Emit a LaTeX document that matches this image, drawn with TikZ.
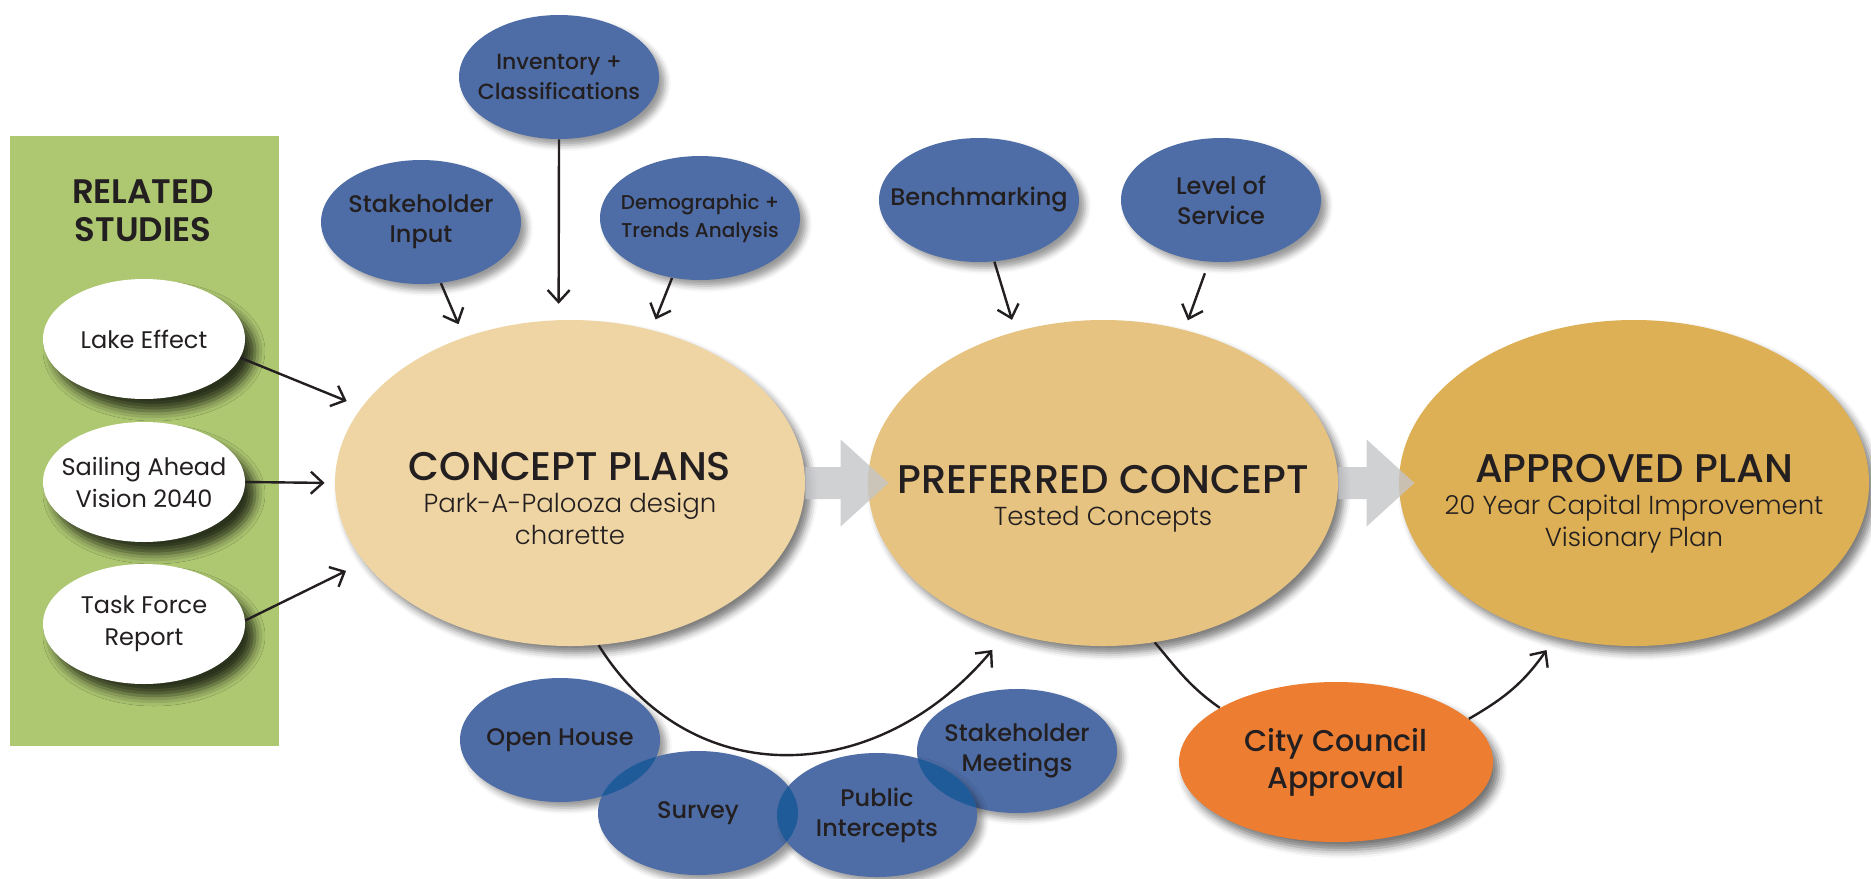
\documentclass[tikz,border=0pt]{standalone}
\usepackage{fontspec}
\setmainfont{Poppins}
\newfontfamily\medfont{Poppins Medium}
\newfontfamily\lightfont{Poppins Light}
\newfontfamily\semifont{Poppins SemiBold}
\usetikzlibrary{shapes.geometric,arrows.meta,shadows.blur}

\definecolor{greenbg}{HTML}{AEC872}
\definecolor{bubbleblue}{HTML}{4E6DA6}
\definecolor{lensblue}{HTML}{1F5B99}
\definecolor{conceptfill}{HTML}{EFD5A3}
\definecolor{preffill}{HTML}{E6C381}
\definecolor{apprfill}{HTML}{DEB055}
\definecolor{councilfill}{HTML}{ED7D31}
\definecolor{arrowgray}{HTML}{C4C5C8}
\definecolor{inkblack}{HTML}{231F20}

\tikzset{
  bubble/.style={ellipse, inner ysep=0pt, inner xsep=-12pt, align=center, text=inkblack},
  study/.style={bubble, fill=white, minimum width=101pt, minimum height=60pt,
    font=\fontsize{12}{16}\selectfont,
    blur shadow={shadow xshift=5pt, shadow yshift=-6pt, shadow blur radius=5pt, shadow opacity=75}},
  input/.style={bubble, fill=bubbleblue, minimum width=100pt, minimum height=62pt,
    font=\medfont\fontsize{12}{15}\selectfont,
    blur shadow={shadow xshift=3pt, shadow yshift=-3pt, shadow blur radius=3pt, shadow opacity=40}},
  phase/.style={ellipse, minimum width=235pt, minimum height=163pt,
    blur shadow={shadow xshift=3pt, shadow yshift=-3.5pt, shadow blur radius=3.5pt, shadow opacity=50}},
  phasetext/.style={align=center, text=inkblack, font=\medfont\fontsize{20}{16}\selectfont},
  flow/.style={draw=arrowgray, line width=16pt, -{Triangle[length=24pt,width=42pt]}},
  feed/.style={draw=inkblack, line width=1.2pt, -{Straight Barb[length=6pt,width=11pt]}},
  link/.style={draw=inkblack, line width=1.2pt},
}
\newcommand{\subline}{\lightfont\fontsize{13}{16}\selectfont}

\begin{document}
\begin{tikzpicture}[x=0.5pt,y=-0.5pt]
\useasboundingbox (0,0) rectangle (1871,878);
\fill[greenbg] (10,136) rectangle (279,746);
\node[text=inkblack, align=center, font=\semifont\fontsize{17}{19}\selectfont] (related) at (143,211) {RELATED\\STUDIES};
\node[study] (lake) at (144,339) {Lake Effect};
\node[study] (sail) at (144,482) {Sailing Ahead\\Vision 2040};
\node[study] (task) at (144,624) {Task Force\\Report};

\node[input, font=\medfont\fontsize{11}{15}\selectfont] (inv) at (559,77) {Inventory +\\Classifications};
\node[input] (stk) at (421,222) {Stakeholder\\Input};
\node[input, font=\medfont\fontsize{10}{14}\selectfont] (dem) at (700,218) {Demographic +\\Trends Analysis};
\node[input] (bench) at (979,200) {Benchmarking};
\node[input] (los) at (1221,200) {Level of\\Service};

\node[phase, fill=conceptfill] (concept) at (570,483) {};
\node[phase, fill=preffill] (pref) at (1103,483) {};
\node[phase, fill=apprfill] (appr) at (1634,483) {};
\node[phasetext] (concepttext) at ([yshift=-8pt]concept.center) {CONCEPT PLANS\\{\subline Park-A-Palooza design}\\{\subline charette}};
\node[phasetext] (preftext) at ([yshift=-8pt]pref.center) {PREFERRED CONCEPT\\{\subline Tested Concepts}};
\node[phasetext] (apprtext) at ([yshift=-10.5pt]appr.center) {APPROVED PLAN\\{\subline 20 Year Capital Improvement}\\{\subline Visionary Plan}};

\begin{scope}[transparency group, opacity=.8]
  \draw[flow, shorten >=-10.5pt] (concept.east) -- (pref.west);
  \draw[flow, shorten >=-8pt] (pref.east) -- (appr.west);
\end{scope}

\node[bubble, fill=councilfill, minimum width=157pt, minimum height=80pt,
  font=\medfont\fontsize{15}{18.5}\selectfont,
  blur shadow={shadow xshift=3pt, shadow yshift=-4pt, shadow blur radius=4pt, shadow opacity=55}] (council) at (1336,762) {City Council\\Approval};

\node[input] (open) at (560,740) {Open House};
\node[input] (survey) at (698,813) {Survey};
\node[input] (meet) at (1017,751) {Stakeholder\\Meetings};
\node[input] (pub) at (877,815) {Public\\Intercepts};
\begin{scope}
  \clip (open.center) ellipse [x radius=50pt, y radius=31pt];
  \fill[lensblue] (survey.center) ellipse [x radius=50pt, y radius=31pt];
\end{scope}
\begin{scope}
  \clip (survey.center) ellipse [x radius=50pt, y radius=31pt];
  \fill[lensblue] (pub.center) ellipse [x radius=50pt, y radius=31pt];
\end{scope}
\begin{scope}
  \clip (meet.center) ellipse [x radius=50pt, y radius=31pt];
  \fill[lensblue] (pub.center) ellipse [x radius=50pt, y radius=31pt];
\end{scope}

\draw[feed, shorten >=8pt] (lake.-11) -- (concept.160);
\draw[feed, shorten >=5pt] (sail.east) -- (concept.west);
\draw[feed, shorten >=10pt] (task.2) -- (concept.201);
\draw[feed, shorten >=7pt] (stk.-72) -- (concept.126);
\draw[feed, shorten >=8pt] (inv.south) -- (concept.94);
\draw[feed, shorten >=5.5pt] (dem.-115) -- (concept.62);
\draw[feed, shorten >=6pt] (bench.-76) -- (pref.120);
\draw[feed, shorten <=6pt, shorten >=5pt] (los.-101) -- (pref.62);

\draw[feed] (concept.-80) to[out=-58, in=-130, looseness=1.15] ([xshift=-7pt, yshift=-9pt]pref.-123);
\draw[link] (pref.-72) to[out=-50, in=145] (council.155);
\draw[feed] (council.18) to[out=30, in=-125] ([xshift=-4.5pt, yshift=-6.5pt]appr.-117);
\end{tikzpicture}
\end{document}
